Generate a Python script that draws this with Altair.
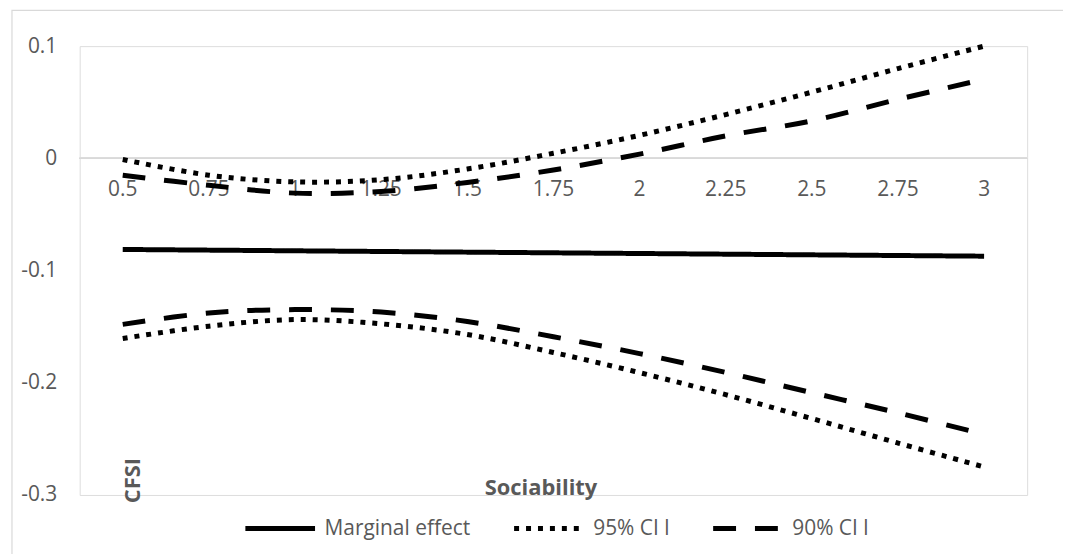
import altair as alt
import pandas as pd

x_labels = ["0.5", "0.75", "1", "1.25", "1.5", "1.75", "2", "2.25", "2.5", "2.75", "3"]
marginal = [-0.0812, -0.0818, -0.0824, -0.0830, -0.0836, -0.0842, -0.0848, -0.0854, -0.0860, -0.0866, -0.0872]
ci95_upper = [-0.001, -0.015, -0.021, -0.019, -0.0095, 0.0045, 0.0205, 0.039, 0.059, 0.080, 0.100]
ci95_lower = [-0.1605, -0.1496, -0.1437, -0.1475, -0.157, -0.173, -0.191, -0.2106, -0.2319, -0.2537, -0.275]
ci90_upper = [-0.015, -0.024, -0.031, -0.0295, -0.0215, -0.0104, 0.0038, 0.020, 0.0334, 0.0525, 0.0705]
ci90_lower = [-0.148, -0.1378, -0.1348, -0.137, -0.1454, -0.159, -0.174, -0.1908, -0.2088, -0.2268, -0.246]

series = [
    ("Marginal effect", "Marginal effect", marginal),
    ("95% CI u", "95% CI l", ci95_upper),
    ("95% CI l", "95% CI l", ci95_lower),
    ("90% CI u", "90% CI l", ci90_upper),
    ("90% CI l", "90% CI l", ci90_lower),
]
legend_order = ["Marginal effect", "95% CI l", "90% CI l"]
dash_styles = [[1, 0], [5, 7], [23, 19]]

rows = []
for name, kind, vals in series:
    for xl, v in zip(x_labels, vals):
        rows.append({"x": xl, "value": v, "series": name, "kind": kind})
df = pd.DataFrame(rows)

FONT = "Open Sans"
GREY = "#595959"
LBL = 21

xscale = alt.Scale(type="point", padding=0.5, domain=x_labels)
yscale = alt.Scale(domain=[-0.3, 0.1], nice=False, zero=False)

lines = alt.Chart(df).mark_line(
    color="black", strokeWidth=5, interpolate="catmull-rom"
).encode(
    x=alt.X("x:O", scale=xscale, sort=x_labels,
            axis=alt.Axis(labels=False, ticks=False, domain=False, grid=False,
                          title="Sociability", titleFont=FONT, titleFontSize=22,
                          titleFontWeight="bold", titleColor=GREY,
                          titleX=463, titleY=-7, titleBaseline="middle")),
    y=alt.Y("value:Q", scale=yscale,
            axis=alt.Axis(values=[-0.3, -0.2, -0.1, 0, 0.1], labelExpr="'' + datum.value",
                          ticks=False, domain=False, grid=False, labelPadding=23,
                          labelFont=FONT, labelFontSize=LBL, labelColor=GREY,
                          title="CFSI", titleFont=FONT, titleFontSize=22,
                          titleFontWeight="bold", titleColor=GREY,
                          titleX=53, titleY=436, titleBaseline="middle", titleAngle=-90)),
    detail="series:N",
    strokeDash=alt.StrokeDash(
        "kind:N",
        scale=alt.Scale(domain=legend_order, range=dash_styles),
        sort=legend_order,
        legend=alt.Legend(
            title=None, orient="none", legendX=164, legendY=447, direction="horizontal",
            symbolType="stroke", symbolSize=4900, symbolStrokeWidth=5,
            symbolStrokeColor="black", labelFont=FONT, labelFontSize=LBL,
            labelColor=GREY, labelOffset=7, columnPadding=33, padding=0,
        ),
    ),
)

label_df = pd.DataFrame({"x": x_labels, "zero": [0] * len(x_labels)})

zero_line = alt.Chart(label_df).mark_rule(color="#d9d9d9", strokeWidth=1.3).encode(
    y=alt.Y("zero:Q", scale=yscale)
)

tick_labels = alt.Chart(label_df).mark_text(
    font=FONT, fontSize=LBL, color=GREY, baseline="middle", dy=32
).encode(
    x=alt.X("x:O", scale=xscale, sort=x_labels),
    y=alt.Y("zero:Q", scale=yscale),
    text="x:N",
)

frame = alt.Chart(alt.Data(values=[{}])).mark_rect(
    fillOpacity=0, stroke="#d9d9d9", strokeWidth=1.2
).encode(
    x=alt.value(-68), x2=alt.value(989), y=alt.value(-36), y2=alt.value(560)
)

chart = alt.layer(frame, zero_line, tick_labels, lines).properties(
    width=952, height=451,
    autosize=alt.AutoSizeParams(type="none"),
    padding={"left": 72, "top": 37, "right": 36, "bottom": 58},
).configure_view(stroke=None).configure(background="white")

chart.save("out.html", embed_options={"renderer": "svg", "actions": False})
